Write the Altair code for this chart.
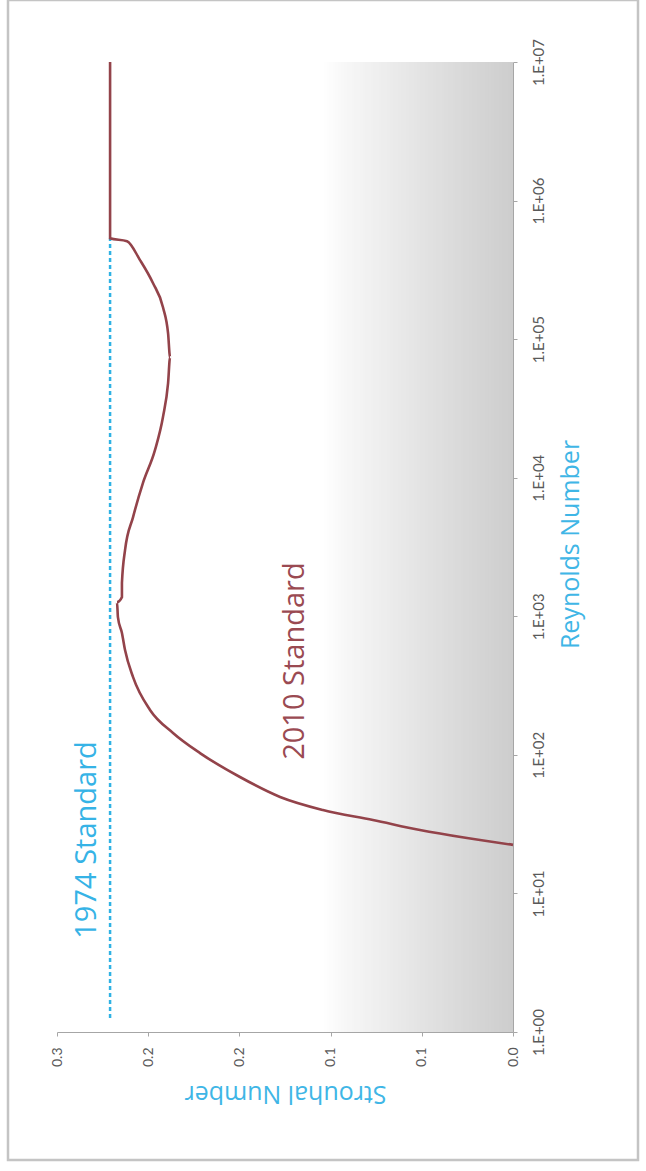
import altair as alt
import numpy as np
import pandas as pd

# ---- data ----
re_2010 = [22.4, 25.1, 28.7, 33.9, 40.0, 49.7, 69.2, 103, 144, 211, 364, 570, 757, 986,
           1265, 1376, 1739, 3004, 5200, 9140, 15800, 27400, 48200, 74100, 110000,
           170000, 254000, 372000, 509000, 535000, 10000000]
st_2010 = [0.0, 0.0252, 0.0510, 0.0768, 0.1042, 0.1277, 0.1497, 0.1716, 0.1864, 0.1990,
           0.2083, 0.2127, 0.2144, 0.2166, 0.2171, 0.2144, 0.2144, 0.2127, 0.2083, 0.2029,
           0.1963, 0.1919, 0.1891, 0.1880, 0.1891, 0.1919, 0.1974, 0.2045, 0.2116, 0.2209,
           0.2209]

re_1974 = [1.26, 535000]
st_1974 = [0.2209, 0.2209]

note_text = ["1974 Standard", "2010 Standard"]
note_st = [0.2336, 0.1195]
note_re = [24.3, 475]
note_color = ["#36b3e6", "#9a4a52"]

re_ticks = [1, 10, 100, 1000, 10000, 100000, 1000000, 10000000]
re_tick_labels = ["1.E+00", "1.E+01", "1.E+02", "1.E+03", "1.E+04", "1.E+05", "1.E+06", "1.E+07"]
st_ticks = [0, 0.05, 0.1, 0.15, 0.2, 0.25]
st_tick_labels = ["0.0", "0.1", "0.1", "0.2", "0.2", "0.3"]

# plot-area shading (style): gray level at given Strouhal positions
shade_st = [0.0, 0.03, 0.06, 0.09, 0.105]
shade_gray = [205, 218, 232, 246, 255]

W, H = 456, 970
FONT = "Lato"
TFONT = "Open Sans"

def label_expr(values, labels):
    pairs = ", ".join(f"'{v}': '{l}'" for v, l in zip(values, labels))
    return "{" + pairs + "}['' + datum.value]"

df2010 = pd.DataFrame({"Re": re_2010, "St": st_2010, "i": range(len(re_2010))})
df1974 = pd.DataFrame({"Re": re_1974, "St": st_1974, "i": range(len(re_1974))})
dfnote = pd.DataFrame({"text": note_text, "St": note_st, "Re": note_re, "c": note_color})

step = 0.0015
lo = np.arange(0, shade_st[-1], step)
g = np.interp(lo + step / 2, shade_st, shade_gray).round().astype(int)
dfshade = pd.DataFrame({
    "lo": lo, "hi": lo + step * 1.4,
    "c": [f"#{v:02x}{v:02x}{v:02x}" for v in g],
})

x_scale = alt.Scale(domain=[0, 0.25], reverse=True, nice=False, zero=True)
y_scale = alt.Scale(type="log", domain=[1, 1e7], nice=False)

x_axis = alt.Axis(
    orient="bottom", values=st_ticks, labelExpr=label_expr(st_ticks, st_tick_labels),
    labelAngle=270, labelAlign="right", labelBaseline="middle", labelPadding=11,
    labelFontSize=14, labelColor="#595959", labelFont=FONT,
    domainColor="#a6a6a6", tickColor="#a6a6a6", tickSize=4, grid=False,
    title="Strouhal Number", titleAngle=180, titleAlign="center", titleBaseline="middle",
    titleX=W / 2, titleY=61, titleFontSize=25, titleFontWeight="normal",
    titleColor="#3fb6e6", titleFont=TFONT,
)
y_axis = alt.Axis(
    orient="right", values=re_ticks, labelExpr=label_expr(re_ticks, re_tick_labels),
    labelAngle=270, labelAlign="center", labelBaseline="top", labelPadding=14,
    labelFontSize=15, labelColor="#595959", labelFont=FONT,
    domainColor="#a6a6a6", tickColor="#a6a6a6", tickSize=4, grid=False,
    title="Reynolds Number", titleAngle=270, titleAlign="center", titleBaseline="middle",
    titleX=57, titleY=482, titleFontSize=25, titleFontWeight="normal",
    titleColor="#3fb6e6", titleFont=TFONT,
)

frame = alt.Chart(pd.DataFrame({"k": [0]})).mark_rect(
    fill=None, stroke="#c4c4c4", strokeWidth=2.5, clip=False
).encode(x=alt.value(-49), x2=alt.value(581), y=alt.value(-62), y2=alt.value(1098))

bg = alt.Chart(dfshade).mark_rect(strokeWidth=0).encode(
    x=alt.X("lo:Q", scale=x_scale),
    x2="hi:Q",
    y=alt.value(0), y2=alt.value(H),
    color=alt.Color("c:N", scale=None),
)

line2010 = alt.Chart(df2010).mark_line(
    color="#93434a", strokeWidth=2.6, interpolate="monotone"
).encode(
    x=alt.X("St:Q", scale=x_scale, axis=x_axis),
    y=alt.Y("Re:Q", scale=y_scale, axis=y_axis),
    order="i:Q",
)

line1974 = alt.Chart(df1974).mark_line(
    color="#2fb2e4", strokeWidth=2.5, strokeDash=[4, 3]
).encode(
    x=alt.X("St:Q", scale=x_scale),
    y=alt.Y("Re:Q", scale=y_scale),
    order="i:Q",
)

notes = alt.Chart(dfnote).mark_text(
    angle=270, fontSize=29, font=TFONT, align="center", baseline="middle"
).encode(
    x=alt.X("St:Q", scale=x_scale),
    y=alt.Y("Re:Q", scale=y_scale),
    text="text:N",
    color=alt.Color("c:N", scale=None),
)

chart = alt.layer(frame, bg, line1974, line2010, notes).properties(
    width=W, height=H,
    autosize=alt.AutoSizeParams(type="none"),
    padding={"left": 57, "top": 62, "right": 133, "bottom": 139},
    background="#ffffff",
).configure_view(stroke=None)

chart.save("out.html", embed_options={"renderer": "svg", "actions": False})
